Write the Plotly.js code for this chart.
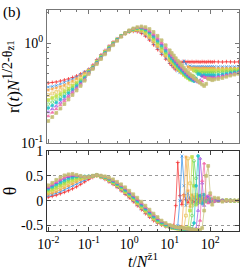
<!DOCTYPE html>
<html><head><meta charset="utf-8">
<script src="https://cdn.plot.ly/plotly-3.0.1.min.js"></script>
<style>html,body{margin:0;padding:0;background:#fff;}</style>
</head><body><div id="chart" style="width:249px;height:270px;"></div>
<script>
// time axis t / N^{z1}
const t = [0.01,0.0126,0.0158,0.02,0.0251,0.0316,0.0398,0.0501,0.0631,0.0794,0.1,0.126,0.158,0.2,0.251,0.316,0.398,0.501,0.631,0.794,1,1.26,1.58,2,2.51,3.16,3.98,5.01,6.31,7.94,10,11.2,12.6,14.1,15.8,17.8,20,22.4,25.1,28.2,31.6,35.5,39.8,44.7,50.1,56.2,63.1,70.8,79.4,89.1,100,112,126,158,200,251,316,398,501];

// top panel: r(t) N^{1/2-theta}
const r_red = [0.398,0.403,0.407,0.417,0.427,0.437,0.452,0.468,0.490,0.513,0.545,0.60,0.68,0.76,0.84,0.93,1.02,1.10,1.18,1.24,1.29,1.31,1.30,1.25,1.17,1.07,0.96,0.86,0.77,0.69,0.625,0.595,0.565,0.54,0.60,0.645,0.64,0.655,0.645,0.65,0.645,0.65,0.645,0.65,0.648,0.645,0.65,0.648,0.645,0.65,0.648,0.646,0.65,0.648,0.646,0.65,0.648,0.646,0.648];
const r_blue = [0.363,0.367,0.376,0.389,0.403,0.417,0.437,0.457,0.484,0.513,0.543,0.59,0.67,0.75,0.83,0.92,1.01,1.10,1.18,1.25,1.30,1.33,1.32,1.28,1.20,1.10,0.99,0.89,0.79,0.71,0.64,0.61,0.58,0.55,0.525,0.505,0.55,0.66,0.62,0.575,0.59,0.58,0.582,0.578,0.58,0.58,0.582,0.58,0.578,0.58,0.58,0.581,0.58,0.58,0.58,0.579,0.58,0.58,0.58];
const r_orange = [0.339,0.347,0.355,0.367,0.380,0.398,0.417,0.442,0.468,0.498,0.535,0.58,0.66,0.74,0.82,0.91,1.00,1.09,1.18,1.25,1.31,1.34,1.34,1.31,1.23,1.13,1.02,0.92,0.82,0.735,0.66,0.63,0.60,0.57,0.545,0.52,0.50,0.48,0.52,0.58,0.57,0.555,0.565,0.56,0.562,0.558,0.56,0.562,0.56,0.558,0.56,0.56,0.56,0.56,0.56,0.56,0.56,0.56,0.56];
const r_yellow = [0.302,0.313,0.324,0.339,0.355,0.372,0.394,0.417,0.447,0.482,0.525,0.575,0.65,0.73,0.81,0.90,0.99,1.08,1.17,1.25,1.31,1.35,1.36,1.33,1.26,1.16,1.05,0.95,0.85,0.76,0.68,0.645,0.615,0.585,0.555,0.53,0.505,0.48,0.46,0.49,0.555,0.55,0.53,0.54,0.535,0.54,0.537,0.537,0.54,0.537,0.537,0.538,0.537,0.537,0.54,0.542,0.545,0.545,0.545];
const r_lime = [0.269,0.282,0.295,0.309,0.327,0.347,0.372,0.398,0.427,0.462,0.52,0.57,0.645,0.725,0.805,0.895,0.985,1.08,1.17,1.25,1.32,1.36,1.385,1.37,1.30,1.20,1.09,0.985,0.88,0.785,0.70,0.665,0.63,0.595,0.565,0.535,0.51,0.485,0.463,0.445,0.43,0.47,0.535,0.53,0.515,0.525,0.523,0.525,0.525,0.524,0.525,0.525,0.525,0.527,0.53,0.532,0.535,0.537,0.538];
const r_green = [0.245,0.257,0.272,0.288,0.309,0.331,0.355,0.385,0.417,0.455,0.515,0.57,0.64,0.72,0.80,0.89,0.98,1.08,1.17,1.25,1.32,1.37,1.40,1.39,1.33,1.24,1.13,1.02,0.91,0.81,0.72,0.68,0.645,0.61,0.575,0.545,0.52,0.495,0.473,0.454,0.437,0.422,0.46,0.52,0.51,0.495,0.505,0.50,0.50,0.502,0.50,0.50,0.50,0.505,0.51,0.515,0.52,0.525,0.528];
const r_cyan = [0.224,0.237,0.254,0.272,0.292,0.316,0.343,0.372,0.407,0.447,0.51,0.565,0.635,0.715,0.795,0.885,0.975,1.075,1.17,1.255,1.325,1.38,1.41,1.41,1.36,1.27,1.16,1.05,0.94,0.835,0.745,0.70,0.66,0.625,0.59,0.56,0.53,0.505,0.483,0.463,0.445,0.43,0.415,0.44,0.49,0.485,0.47,0.48,0.475,0.478,0.476,0.477,0.476,0.48,0.487,0.495,0.503,0.51,0.515];
const r_purple = [0.204,0.219,0.234,0.254,0.275,0.299,0.327,0.359,0.394,0.437,0.505,0.56,0.63,0.705,0.785,0.875,0.965,1.065,1.165,1.255,1.33,1.385,1.42,1.425,1.385,1.305,1.20,1.09,0.98,0.87,0.775,0.73,0.69,0.65,0.615,0.58,0.55,0.525,0.50,0.478,0.46,0.443,0.428,0.415,0.405,0.425,0.47,0.465,0.45,0.46,0.455,0.458,0.457,0.463,0.472,0.482,0.492,0.50,0.507];
const r_pink = [0.186,0.202,0.219,0.240,0.263,0.288,0.316,0.347,0.385,0.430,0.50,0.555,0.625,0.70,0.78,0.865,0.96,1.06,1.16,1.255,1.335,1.39,1.43,1.44,1.405,1.33,1.23,1.12,1.01,0.90,0.80,0.755,0.71,0.67,0.635,0.60,0.57,0.54,0.515,0.493,0.473,0.455,0.44,0.425,0.413,0.40,0.415,0.455,0.45,0.437,0.445,0.443,0.444,0.452,0.462,0.473,0.483,0.492,0.50];
const r_khaki = [0.166,0.182,0.200,0.221,0.245,0.272,0.302,0.335,0.372,0.42,0.49,0.55,0.615,0.69,0.77,0.855,0.95,1.05,1.155,1.255,1.34,1.40,1.44,1.465,1.44,1.38,1.29,1.18,1.065,0.95,0.845,0.795,0.75,0.705,0.665,0.63,0.595,0.565,0.535,0.51,0.488,0.468,0.45,0.432,0.415,0.40,0.385,0.372,0.39,0.44,0.435,0.425,0.432,0.437,0.447,0.46,0.472,0.483,0.492];

// bottom panel: theta
const th_red = [0.07,0.09,0.11,0.14,0.17,0.20,0.24,0.28,0.33,0.38,0.43,0.47,0.50,0.47,0.43,0.38,0.33,0.27,0.20,0.13,0.06,-0.02,-0.10,-0.18,-0.26,-0.33,-0.40,-0.45,-0.49,-0.52,-0.54,-0.55,-0.50,-0.10,0.77,0.10,-0.08,0.12,0.02,-0.04,0.05,0.0,-0.03,0.03,0.0,-0.02,0.02,0.0,-0.01,0.01,0.0,0.0,-0.01,0.01,0.0,0.0,0.0,0.0,0.0];
const th_blue = [0.10,0.12,0.15,0.18,0.22,0.26,0.30,0.34,0.38,0.42,0.46,0.49,0.51,0.475,0.44,0.39,0.34,0.28,0.215,0.145,0.075,0.0,-0.085,-0.165,-0.245,-0.32,-0.385,-0.44,-0.48,-0.515,-0.535,-0.545,-0.55,-0.555,-0.50,0.0,0.90,0.30,-0.10,0.15,0.05,-0.05,0.06,0.0,-0.03,0.03,0.0,-0.01,0.02,0.0,-0.01,0.01,0.0,0.0,0.01,0.0,0.0,0.0,0.0];
const th_orange = [0.13,0.15,0.18,0.22,0.26,0.30,0.34,0.38,0.42,0.45,0.48,0.50,0.51,0.48,0.45,0.40,0.35,0.295,0.23,0.16,0.09,0.015,-0.07,-0.15,-0.23,-0.305,-0.375,-0.43,-0.475,-0.51,-0.53,-0.54,-0.55,-0.555,-0.56,-0.56,-0.52,0.10,0.88,0.20,-0.12,0.12,0.08,-0.05,0.04,0.02,-0.02,0.02,0.0,-0.01,0.01,0.0,0.0,0.0,-0.01,0.0,0.01,0.0,0.0];
const th_yellow = [0.16,0.19,0.22,0.26,0.30,0.34,0.38,0.41,0.44,0.46,0.48,0.50,0.51,0.485,0.46,0.415,0.365,0.31,0.245,0.175,0.105,0.03,-0.05,-0.13,-0.21,-0.29,-0.36,-0.42,-0.465,-0.50,-0.525,-0.54,-0.55,-0.555,-0.56,-0.565,-0.565,-0.55,-0.30,0.85,0.35,-0.10,0.05,0.12,-0.03,0.02,0.04,-0.02,0.01,0.02,-0.01,0.0,0.01,0.0,0.0,0.0,0.0,0.0,0.0];
const th_lime = [0.19,0.22,0.26,0.30,0.34,0.38,0.41,0.44,0.46,0.47,0.48,0.50,0.51,0.49,0.465,0.42,0.37,0.32,0.26,0.19,0.12,0.045,-0.035,-0.115,-0.195,-0.275,-0.345,-0.41,-0.46,-0.495,-0.525,-0.54,-0.55,-0.555,-0.56,-0.565,-0.57,-0.57,-0.57,-0.55,-0.20,0.88,0.30,-0.08,0.10,0.08,-0.03,0.03,0.03,-0.02,0.01,0.01,0.0,0.0,0.0,0.01,0.0,0.0,0.0];
const th_green = [0.22,0.26,0.30,0.34,0.38,0.42,0.45,0.47,0.48,0.48,0.49,0.50,0.52,0.49,0.47,0.43,0.38,0.33,0.27,0.20,0.13,0.06,-0.02,-0.10,-0.18,-0.26,-0.33,-0.40,-0.45,-0.49,-0.52,-0.535,-0.545,-0.55,-0.555,-0.56,-0.565,-0.57,-0.57,-0.575,-0.56,-0.30,0.80,0.45,-0.05,0.05,0.12,-0.02,0.02,0.04,-0.01,0.01,0.01,0.0,0.0,0.0,0.0,0.0,0.0];
const th_cyan = [0.24,0.28,0.33,0.37,0.41,0.45,0.47,0.49,0.49,0.49,0.49,0.50,0.52,0.495,0.475,0.44,0.39,0.34,0.285,0.215,0.145,0.075,-0.005,-0.085,-0.165,-0.245,-0.32,-0.385,-0.44,-0.48,-0.515,-0.53,-0.54,-0.55,-0.555,-0.56,-0.565,-0.57,-0.57,-0.575,-0.575,-0.57,-0.45,0.30,0.90,0.10,-0.06,0.12,0.05,-0.03,0.04,0.02,-0.01,0.02,0.0,0.0,0.01,0.0,0.0];
const th_purple = [0.26,0.31,0.36,0.41,0.45,0.48,0.50,0.50,0.49,0.48,0.49,0.50,0.52,0.50,0.48,0.45,0.405,0.355,0.30,0.235,0.165,0.095,0.02,-0.06,-0.14,-0.22,-0.295,-0.365,-0.425,-0.47,-0.505,-0.52,-0.535,-0.545,-0.55,-0.555,-0.56,-0.565,-0.57,-0.575,-0.575,-0.58,-0.58,-0.56,-0.20,0.85,0.35,-0.10,0.08,0.10,-0.03,0.03,0.03,-0.01,0.01,0.0,0.0,0.0,0.0];
const th_pink = [0.28,0.33,0.38,0.43,0.47,0.50,0.52,0.51,0.49,0.48,0.48,0.50,0.52,0.50,0.485,0.455,0.415,0.365,0.31,0.25,0.18,0.11,0.035,-0.045,-0.125,-0.205,-0.28,-0.35,-0.41,-0.46,-0.495,-0.51,-0.525,-0.535,-0.545,-0.55,-0.555,-0.56,-0.565,-0.57,-0.575,-0.58,-0.58,-0.585,-0.58,-0.40,0.40,0.75,0.05,-0.05,0.12,0.03,-0.02,0.04,0.0,-0.01,0.01,0.0,0.0];
const th_khaki = [0.31,0.36,0.42,0.47,0.51,0.53,0.54,0.52,0.50,0.48,0.48,0.50,0.52,0.505,0.49,0.465,0.43,0.38,0.33,0.27,0.20,0.13,0.06,-0.02,-0.10,-0.18,-0.26,-0.33,-0.40,-0.45,-0.49,-0.505,-0.52,-0.53,-0.54,-0.545,-0.55,-0.555,-0.56,-0.565,-0.57,-0.575,-0.58,-0.585,-0.585,-0.59,-0.55,-0.20,0.50,0.70,0.15,-0.08,0.06,0.05,-0.02,0.01,0.0,0.0,0.0];

// tick labels
const xTickVals = [0.01,0.1,1,10,100];
const xTickText = ['10<sup>-2</sup>','10<sup>-1</sup>','10<sup>0</sup>','10<sup>1</sup>','10<sup>2</sup>'];
const yTopTickVals = [0.1,1];
const yTopTickText = ['10<sup>-1</sup>','10<sup>0</sup>'];
const yBotTickVals = [-0.5,0,0.5,1];
const yBotTickText = ['-0.5','0','0.5','1'];

// styling per series (not data)
const rSeries = [r_red,r_blue,r_orange,r_yellow,r_lime,r_green,r_cyan,r_purple,r_pink,r_khaki];
const thSeries = [th_red,th_blue,th_orange,th_yellow,th_lime,th_green,th_cyan,th_purple,th_pink,th_khaki];
const colors = ['#f42a2a','#2c8de6','#f7a54a','#e6c257','#c2e04a','#6fd85f','#1fc4c8','#9b4fe0','#f468a8','#c3bd72'];
const symbols = ['cross-thin-open','x-thin-open','asterisk-open','square-open','square','circle-open','circle','triangle-up-open','triangle-up','square'];

const traces = [];
rSeries.forEach((ys,k)=>{
  traces.push({x:t, y:ys, xaxis:'x', yaxis:'y', type:'scatter', mode:'lines+markers',
    line:{color:colors[k], width:0.4},
    marker:{color:colors[k], symbol:symbols[k], size:2.8, opacity:0.9, line:{color:colors[k], width:0.8}},
    hoverinfo:'skip'});
});
thSeries.forEach((ys,k)=>{
  traces.push({x:t, y:ys, xaxis:'x2', yaxis:'y2', type:'scatter', mode:'lines+markers',
    line:{color:colors[k], width:0.7},
    marker:{color:colors[k], symbol:symbols[k], size:2.8, opacity:0.9, line:{color:colors[k], width:0.8}},
    hoverinfo:'skip'});
});

const fontFam = 'Liberation Serif, Times New Roman, serif';
const common = {showline:true, mirror:'ticks', ticks:'inside', ticklen:4, tickcolor:'#444', zeroline:false, showgrid:false};

const layout = {
  width:249, height:270,
  margin:{l:47, r:10, t:10, b:39},
  paper_bgcolor:'#fff', plot_bgcolor:'#fff',
  showlegend:false,
  font:{family:fontFam, size:14, color:'#000'},
  xaxis:Object.assign({}, common, {type:'log', range:[-2.03,2.71], anchor:'y', domain:[0,1],
    tickvals:xTickVals, ticktext:xTickText, showticklabels:false, linecolor:'#777', tickcolor:'#777',
    minor:{ticks:'inside', ticklen:2, dtick:'D2', tickcolor:'#777'}}),
  yaxis:Object.assign({}, common, {type:'log', range:[-1,0.33], domain:[0.398,1], anchor:'x',
    tickvals:yTopTickVals, ticktext:yTopTickText, linecolor:'#777', tickcolor:'#777',
    minor:{ticks:'inside', ticklen:2, dtick:'D1', tickcolor:'#777'},
    title:{text:'r(<i>t</i>)<i>N</i><sup><span style="font-size:14px">1/2-θ</span><sub><span style="font-size:11px">z̄1</span></sub></sup>', standoff:4, font:{size:17}}}),
  xaxis2:Object.assign({}, common, {type:'log', range:[-2.03,2.71], anchor:'y2', domain:[0,1],
    tickvals:xTickVals, ticktext:xTickText, linecolor:'#333',
    minor:{ticks:'inside', ticklen:2, dtick:'D2', tickcolor:'#444'},
    title:{text:'<i>t</i>/<i>N</i><sup>z̄1</sup>', standoff:3, font:{size:16}}}),
  yaxis2:Object.assign({}, common, {range:[-0.61,1.0], domain:[0,0.362], anchor:'x2',
    tickvals:yBotTickVals, ticktext:yBotTickText, linecolor:'#333',
    showgrid:true, gridcolor:'#999', griddash:'dot', gridwidth:1,
    title:{text:'θ', standoff:2, font:{size:18}}}),
  annotations:[{text:'(b)', xref:'paper', yref:'paper', x:-0.18, y:0.99, showarrow:false,
    font:{size:15, family:fontFam}, xanchor:'center', yanchor:'middle'}]
};

Plotly.newPlot('chart', traces, layout, {staticPlot:true, displayModeBar:false});
</script>
</body></html>
